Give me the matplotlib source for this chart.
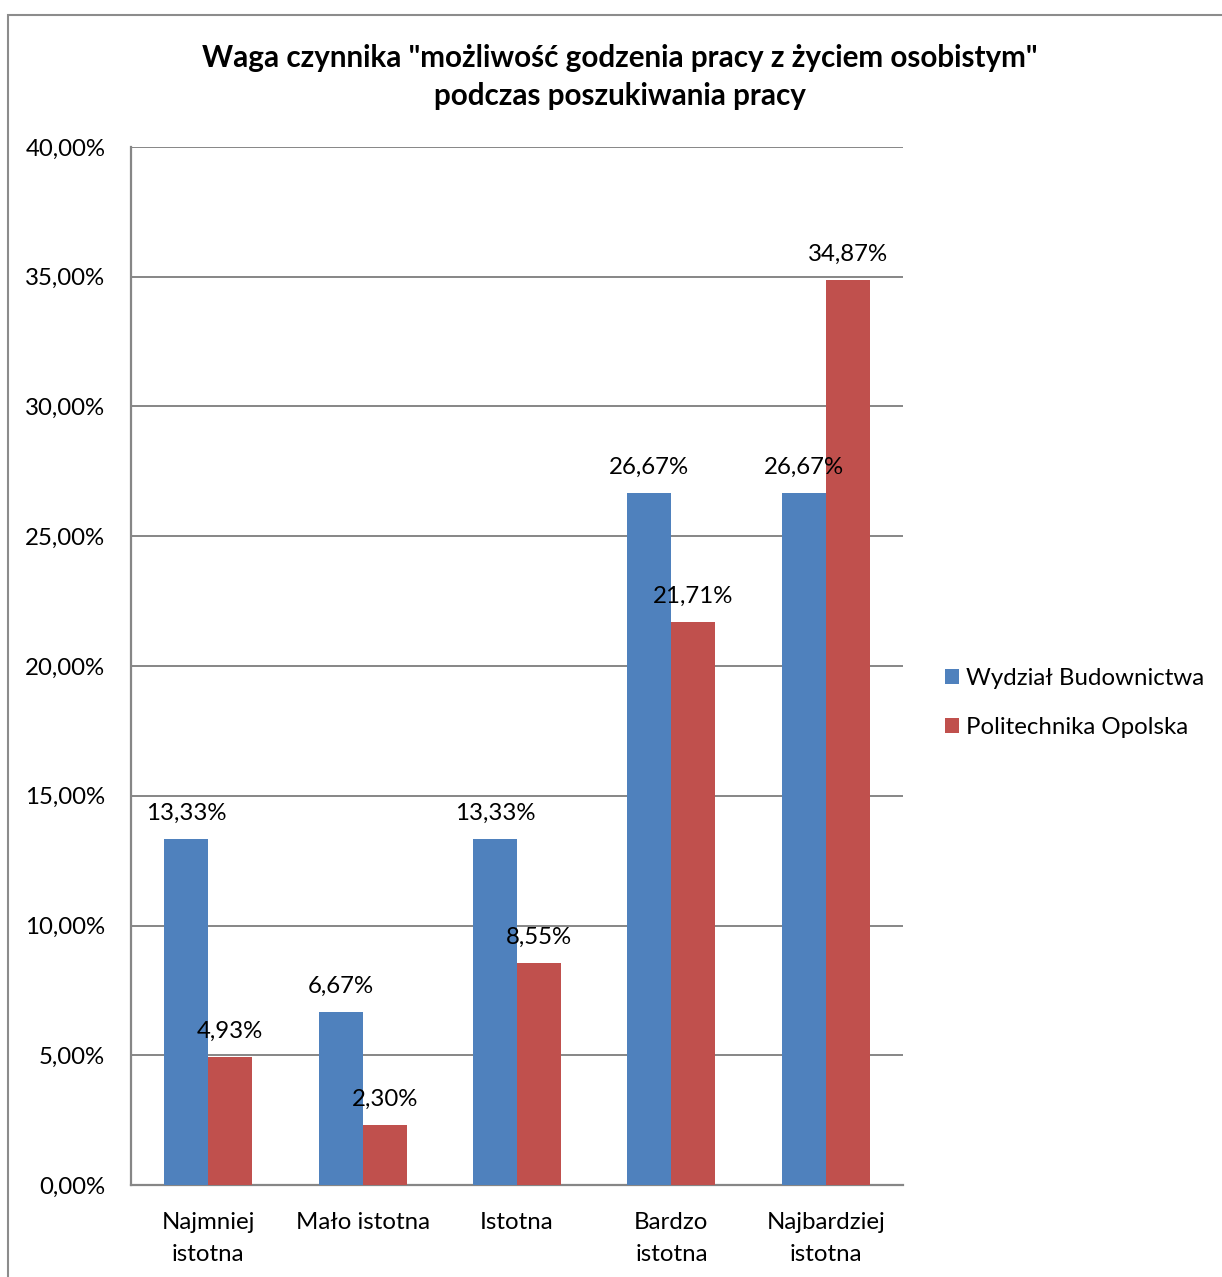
import matplotlib
matplotlib.use("Agg")
import matplotlib.pyplot as plt
import numpy as np
from matplotlib.patches import Rectangle

categories = ["Najmniej\nistotna", "Mało istotna", "Istotna", "Bardzo\nistotna", "Najbardziej\nistotna"]
wydzial = [13.33, 6.67, 13.33, 26.67, 26.67]
politechnika = [4.93, 2.30, 8.55, 21.71, 34.87]
series_names = ["Wydział Budownictwa", "Politechnika Opolska"]
yticks = [0, 5, 10, 15, 20, 25, 30, 35, 40]
title = 'Waga czynnika "możliwość godzenia pracy z życiem osobistym"\npodczas poszukiwania pracy'

plt.rcParams['font.family'] = ['Lato', 'DejaVu Sans']

W, H = 1222, 1277
fig = plt.figure(figsize=(W / 100, H / 100), dpi=100)
fig.patch.set_facecolor("white")

# outer chart border
fig.patches.append(Rectangle((8 / W, -0.05), 1.2, 1 - 15 / H + 0.05, transform=fig.transFigure,
                             fill=False, edgecolor="#8c8c8c", linewidth=1.5))

ax = fig.add_axes([131 / W, 1 - 1185 / H, (903 - 131) / W, (1185 - 147) / H])
x = np.arange(len(categories))
bw = 0.285
blue, red = "#4F81BD", "#C0504D"
b1 = ax.bar(x - bw / 2, wydzial, bw, color=blue, label=series_names[0], zorder=3)
b2 = ax.bar(x + bw / 2, politechnika, bw, color=red, label=series_names[1], zorder=3)

fs = 17.3
for bars, vals in ((b1, wydzial), (b2, politechnika)):
    for r, v in zip(bars, vals):
        ax.annotate(f"{v:.2f}%".replace(".", ","), (r.get_x() + r.get_width() / 2, v),
                    xytext=(0, 11), textcoords="offset points", ha="center", va="bottom",
                    fontsize=fs, zorder=5)

ax.set_xlim(-0.5, len(categories) - 0.5)
ax.set_ylim(0, 40)
ax.set_yticks(yticks)
ax.set_yticklabels([f"{t:.2f}%".replace(".", ",") for t in yticks], fontsize=fs)
ax.set_xticks(x)
ax.set_xticklabels(categories, fontsize=fs, linespacing=1.65)
ax.tick_params(axis="both", length=0)
ax.tick_params(axis="y", pad=18.5)
ax.tick_params(axis="x", pad=19.5)
for lbl in ax.get_yticklabels():
    lbl.set_horizontalalignment("right")
ax.yaxis.grid(True, color="#868686", linewidth=1.4, zorder=0)
for s in ("top", "right"):
    ax.spines[s].set_visible(False)
for s in ("left", "bottom"):
    ax.spines[s].set_color("#868686")
    ax.spines[s].set_linewidth(1.6)

fig.text(620 / W, 1 - 77 / H, title, ha="center", va="center", fontsize=21.3,
         fontweight="bold", linespacing=1.45)

leg = fig.legend(handles=[b1, b2], labels=series_names, loc="center left",
                 bbox_to_anchor=(923 / W, 1 - 703 / H), frameon=False, fontsize=fs,
                 handlelength=0.6, handleheight=0.6, handletextpad=0.3, labelspacing=1.15)

fig.savefig("out.png", dpi=100, facecolor="white")
